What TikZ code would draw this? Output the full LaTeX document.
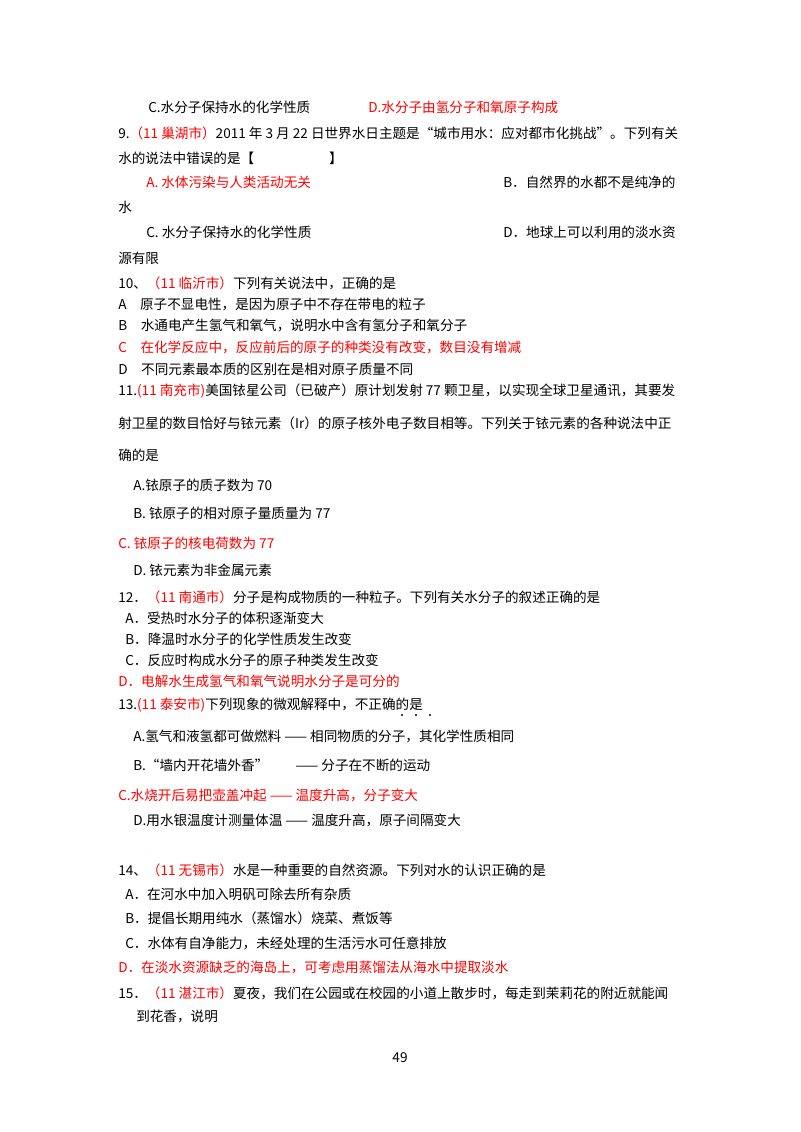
\documentclass[tikz,border=0pt]{standalone}
\usepackage{fontspec}
\setmainfont{Noto Sans CJK SC}
\begin{document}
\begin{tikzpicture}[x=0.75pt,y=-0.75pt,
  t/.style={anchor=west,inner sep=0pt,font=\fontsize{10.2}{12}\selectfont},
  r/.style={t,text=red}]
\useasboundingbox (0,0) rectangle (800,1132);
\fill[white] (0,0) rectangle (800,1132);
\newcommand{\R}[1]{\textcolor{red}{#1}}
\node[t] (l1a) at (148,107) {C.水分子保持水的化学性质};
\node[r] (l1b) at (368,107) {D.水分子由氢分子和氧原子构成};
\node[t] (l2) at (118,133) {9.\R{（11 巢湖市）}2011 年 3 月 22 日世界水日主题是“城市用水：应对都市化挑战”。下列有关};
\node[t] (l3) at (118,158) {水的说法中错误的是【\hspace{5.5em}】};
\node[r] (l4a) at (146,182) {A. 水体污染与人类活动无关};
\node[t] (l4b) at (503,182) {B．自然界的水都不是纯净的};
\node[t] (l5) at (118,207) {水};
\node[t] (l6a) at (146,232) {C. 水分子保持水的化学性质};
\node[t] (l6b) at (503,232) {D．地球上可以利用的淡水资};
\node[t] (l7) at (118,258) {源有限};
\node[t] (l8) at (118,283) {10、\R{（11 临沂市）}下列有关说法中，正确的是};
\node[t] (l9) at (118,304) {A\quad 原子不显电性，是因为原子中不存在带电的粒子};
\node[t] (l10) at (118,325) {B\quad 水通电产生氢气和氧气，说明水中含有氢分子和氧分子};
\node[r] (l11) at (118,347) {C\quad 在化学反应中，反应前后的原子的种类没有改变，数目没有增减};
\node[t] (l12) at (118,369) {D\quad 不同元素最本质的区别在是相对原子质量不同};
\node[t] (l13) at (118,391) {11.\R{(11 南充市)}美国铱星公司（已破产）原计划发射 77 颗卫星，以实现全球卫星通讯，其要发};
\node[t] (l14) at (118,423) {射卫星的数目恰好与铱元素（Ir）的原子核外电子数目相等。下列关于铱元素的各种说法中正};
\node[t] (l15) at (118,455) {确的是};
\node[t] (l16) at (133,485) {A.铱原子的质子数为 70};
\node[t] (l17) at (133,513) {B. 铱原子的相对原子量质量为 77};
\node[r] (l18) at (118,543) {C. 铱原子的核电荷数为 77};
\node[t] (l19) at (133,570) {D. 铱元素为非金属元素};
\node[t] (l20) at (118,597) {12．\R{（11 南通市）}分子是构成物质的一种粒子。下列有关水分子的叙述正确的是};
\node[t] (l21) at (125,618) {A．受热时水分子的体积逐渐变大};
\node[t] (l22) at (125,639) {B．降温时水分子的化学性质发生改变};
\node[t] (l23) at (125,660) {C．反应时构成水分子的原子种类发生改变};
\node[r] (l24) at (118,681) {D．电解水生成氢气和氧气说明水分子是可分的};
\node[t] (l25) at (118,705) {13.\R{(11 泰安市)}下列现象的微观解释中，不正确的是};
\foreach \xx in {402,416,430} \fill (\xx,715) circle (1.2);
\node[t] (l26) at (133,736) {A.氢气和液氢都可做燃料 —— 相同物质的分子，其化学性质相同};
\node[t] (l27) at (133,765) {B.“墙内开花墙外香”\hspace{2em}—— 分子在不断的运动};
\node[r] (l28) at (118,795) {C.水烧开后易把壶盖冲起 —— 温度升高，分子变大};
\node[t] (l29) at (133,820) {D.用水银温度计测量体温 —— 温度升高，原子间隔变大};
\node[t] (l30) at (118,870) {14、\R{（11 无锡市）}水是一种重要的自然资源。下列对水的认识正确的是};
\node[t] (l31) at (125,894) {A．在河水中加入明矾可除去所有杂质};
\node[t] (l32) at (125,918) {B．提倡长期用纯水（蒸馏水）烧菜、煮饭等};
\node[t] (l33) at (125,943) {C．水体有自净能力，未经处理的生活污水可任意排放};
\node[r] (l34) at (118,967) {D．在淡水资源缺乏的海岛上，可考虑用蒸馏法从海水中提取淡水};
\node[t] (l35) at (118,993) {15．\R{（11 湛江市）}夏夜，我们在公园或在校园的小道上散步时，每走到茉莉花的附近就能闻};
\node[t] (l36) at (136,1017) {到花香，说明};
\node[t,anchor=center] (pg) at (400,1058) {49};
\end{tikzpicture}
\end{document}
